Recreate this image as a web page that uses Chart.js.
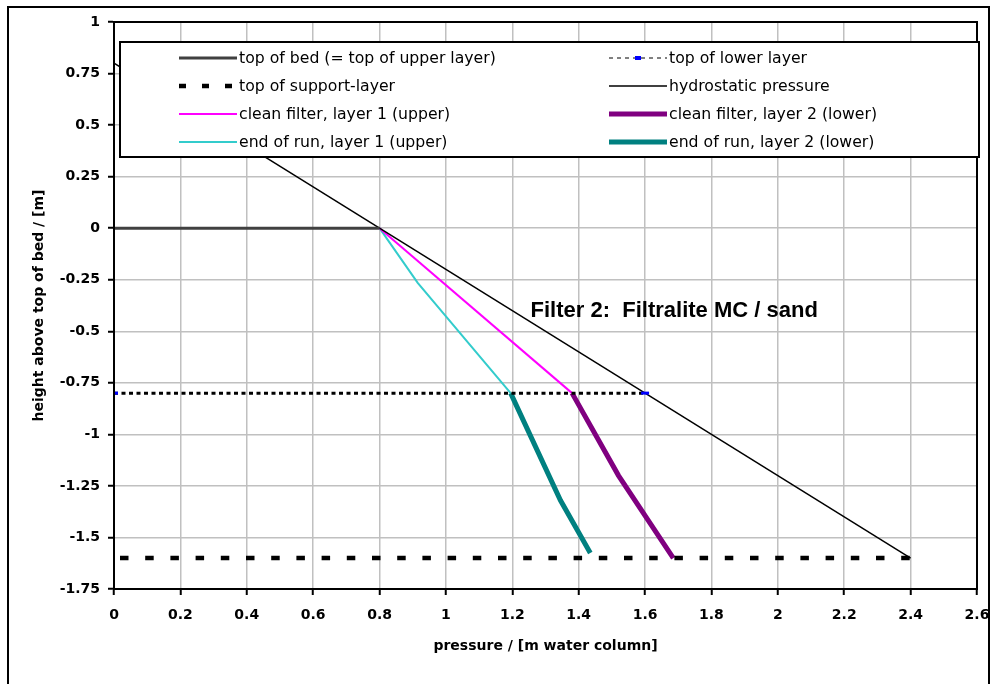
<!DOCTYPE html>
<html>
<head>
<meta charset="utf-8">
<title>Filter 2: Filtralite MC / sand</title>
<script src="https://cdn.jsdelivr.net/npm/chart.js@4.4.1/dist/chart.umd.min.js"></script>
<style>
  html, body { margin: 0; padding: 0; background: #fff; }
  canvas { display: block; }
</style>
</head>
<body>
<canvas id="filter2" width="990" height="684"></canvas>
<script>
// x = pressure [m water column], y = height above top of bed [m]
var bedX = [0, 0.8];
var bedY = [0, 0];
var lowerX = [0, 1.6];
var lowerY = [-0.8, -0.8];
var supportX = [0, 2.4];
var supportY = [-1.6, -1.6];
var hydroX = [0, 2.4];
var hydroY = [0.8, -1.6];
var clean1X = [0.8, 1.38];
var clean1Y = [0, -0.8];
var clean2X = [1.38, 1.52, 1.685];
var clean2Y = [-0.8, -1.2, -1.6];
var end1X = [0.8, 0.915, 1.195];
var end1Y = [0, -0.265, -0.8];
var end2X = [1.195, 1.345, 1.435];
var end2Y = [-0.8, -1.32, -1.575];

var xTicks = [0, 0.2, 0.4, 0.6, 0.8, 1, 1.2, 1.4, 1.6, 1.8, 2, 2.2, 2.4, 2.6];
var xTickLabels = ['0', '0.2', '0.4', '0.6', '0.8', '1', '1.2', '1.4', '1.6', '1.8', '2', '2.2', '2.4', '2.6'];
var yTicks = [-1.75, -1.5, -1.25, -1, -0.75, -0.5, -0.25, 0, 0.25, 0.5, 0.75, 1];
var yTickLabels = ['-1.75', '-1.5', '-1.25', '-1', '-0.75', '-0.5', '-0.25', '0', '0.25', '0.5', '0.75', '1'];

var noteText = 'Filter 2:  Filtralite MC / sand';
var noteAt = [1.255, -0.43];

function pts(xs, ys) {
    return xs.map(function (x, i) { return { x: x, y: ys[i] }; });
}

// white page, outer frame and plot frame
var frame = {
    id: 'frame',
    beforeDraw: function (chart) {
        var ctx = chart.ctx;
        ctx.save();
        ctx.fillStyle = '#fff';
        ctx.fillRect(0, 0, chart.width, chart.height);
        ctx.restore();
    },
    afterDraw: function (chart) {
        var ctx = chart.ctx, a = chart.chartArea;
        ctx.save();
        ctx.strokeStyle = '#000';
        ctx.lineWidth = 2;
        ctx.strokeRect(a.left, a.top, a.right - a.left, a.bottom - a.top);
        ctx.strokeRect(8, 7, 981, 700);
        ctx.restore();
    }
};

// text inside the plot
var note = {
    id: 'note',
    afterDatasetsDraw: function (chart) {
        var ctx = chart.ctx;
        var px = chart.scales.x.getPixelForValue(noteAt[0]);
        var py = chart.scales.y.getPixelForValue(noteAt[1]);
        ctx.save();
        ctx.fillStyle = '#000';
        ctx.font = 'bold 22px "Liberation Sans", Arial, sans-serif';
        ctx.textAlign = 'left';
        ctx.textBaseline = 'alphabetic';
        ctx.fillText(noteText, px, py);
        ctx.restore();
    }
};

// excel-like legend box, two columns, drawn over the plot
var boxLegend = {
    id: 'boxLegend',
    afterDraw: function (chart) {
        var ctx = chart.ctx;
        ctx.save();
        ctx.fillStyle = '#fff';
        ctx.fillRect(120, 42, 859, 115);
        ctx.strokeStyle = '#000';
        ctx.lineWidth = 2;
        ctx.strokeRect(120, 42, 859, 115);
        ctx.font = '15.7px "DejaVu Sans", sans-serif';
        ctx.textBaseline = 'middle';
        chart.data.datasets.forEach(function (ds, i) {
            var col = i % 2, row = Math.floor(i / 2);
            var x0 = col ? 609 : 179, x1 = x0 + 58, y = 58 + row * 28;
            ctx.save();
            ctx.strokeStyle = ds.borderColor;
            ctx.lineWidth = ds.legendWidth || ds.borderWidth;
            ctx.setLineDash(ds.legendDash || ds.borderDash || []);
            ctx.beginPath();
            ctx.moveTo(x0, y);
            ctx.lineTo(x1, y);
            ctx.stroke();
            if (ds.pointRadius) {
                ctx.setLineDash([]);
                ctx.fillStyle = ds.pointBorderColor;
                ctx.fillRect((x0 + x1) / 2 - 3, y - 2, 6, 4);
            }
            ctx.restore();
            ctx.fillStyle = '#000';
            ctx.fillText(ds.label, x1 + 2, y + 1);
        });
        ctx.restore();
    }
};

var axisFont = { family: '"DejaVu Sans", sans-serif', size: 14, weight: 'bold' };

new Chart(document.getElementById('filter2'), {
    type: 'scatter',
    data: {
        datasets: [{
            label: 'top of bed (= top of upper layer)',
            data: pts(bedX, bedY),
            borderColor: '#404040',
            borderWidth: 3
        }, {
            label: 'top of lower layer',
            data: pts(lowerX, lowerY),
            borderColor: '#000',
            borderWidth: 3,
            borderDash: [4, 3.5],
            legendWidth: 1,
            legendDash: [4, 4],
            pointStyle: 'line',
            pointRadius: 4,
            pointBorderColor: '#0000ff',
            pointBorderWidth: 3
        }, {
            label: 'top of support-layer',
            data: pts(supportX, supportY),
            borderColor: '#000',
            borderWidth: 4.5,
            borderDash: [8.5, 16.7],
            borderDashOffset: 19.2,
            legendDash: [7, 16]
        }, {
            label: 'hydrostatic pressure',
            data: pts(hydroX, hydroY),
            borderColor: '#000',
            borderWidth: 1.5
        }, {
            label: 'clean filter, layer 1 (upper)',
            data: pts(clean1X, clean1Y),
            borderColor: '#ff00ff',
            borderWidth: 2
        }, {
            label: 'clean filter, layer 2 (lower)',
            data: pts(clean2X, clean2Y),
            borderColor: '#800080',
            borderWidth: 5
        }, {
            label: 'end of run, layer 1 (upper)',
            data: pts(end1X, end1Y),
            borderColor: '#33cccc',
            borderWidth: 2
        }, {
            label: 'end of run, layer 2 (lower)',
            data: pts(end2X, end2Y),
            borderColor: '#008080',
            borderWidth: 5
        }]
    },
    options: {
        responsive: false,
        animation: false,
        devicePixelRatio: 1,
        showLine: true,
        elements: {
            point: { radius: 0, hoverRadius: 0 },
            line: { tension: 0, fill: false }
        },
        layout: { padding: { left: 0, right: 0, top: 22, bottom: 0 } },
        plugins: {
            legend: { display: false },
            tooltip: { enabled: false }
        },
        scales: {
            x: {
                type: 'linear',
                min: 0,
                max: 2.6,
                afterFit: function (s) {
                    s.height = 95;
                    s.paddingLeft = 0;
                    s.paddingRight = 13;
                },
                afterBuildTicks: function (s) {
                    s.ticks = xTicks.map(function (v) { return { value: v }; });
                },
                ticks: {
                    color: '#000',
                    font: axisFont,
                    padding: 12,
                    maxRotation: 0,
                    autoSkip: false,
                    callback: function (v, i) { return xTickLabels[i]; }
                },
                grid: { color: '#c0c0c0', lineWidth: 1.5, tickColor: '#000', tickLength: 6, tickWidth: 2 },
                border: { color: '#000', width: 2 },
                title: {
                    display: true,
                    text: 'pressure / [m water column]',
                    color: '#000',
                    font: axisFont,
                    padding: { top: 0, bottom: 29 }
                }
            },
            y: {
                type: 'linear',
                min: -1.75,
                max: 1,
                afterFit: function (s) {
                    s.width = 114;
                    s.paddingTop = 0;
                    s.paddingBottom = 0;
                },
                afterBuildTicks: function (s) {
                    s.ticks = yTicks.map(function (v) { return { value: v }; });
                },
                ticks: {
                    color: '#000',
                    font: axisFont,
                    padding: 8,
                    autoSkip: false,
                    callback: function (v, i) { return yTickLabels[i]; }
                },
                grid: { color: '#c0c0c0', lineWidth: 1.5, tickColor: '#000', tickLength: 6, tickWidth: 2 },
                border: { color: '#000', width: 2 },
                title: {
                    display: true,
                    text: 'height above top of bed / [m]',
                    color: '#000',
                    font: axisFont,
                    padding: { top: 31, bottom: 0 }
                }
            }
        }
    },
    plugins: [frame, note, boxLegend]
});
</script>
</body>
</html>
